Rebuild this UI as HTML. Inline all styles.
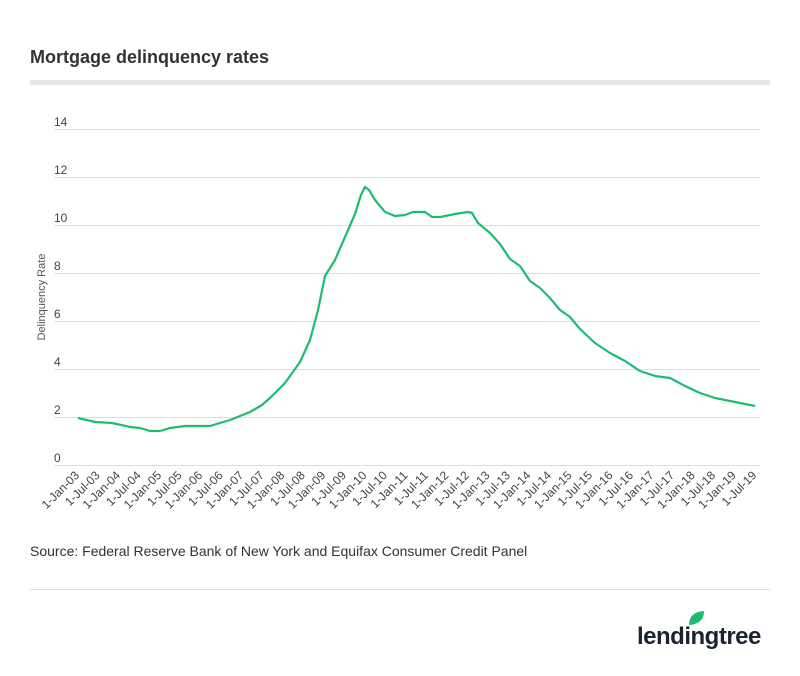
<!DOCTYPE html>
<html><head><meta charset="utf-8"><style>
body{margin:0;background:#fff;width:800px;height:671px;overflow:hidden;font-family:"Liberation Sans",sans-serif}
</style></head><body>
<svg width="800" height="671" xmlns="http://www.w3.org/2000/svg" font-family="Liberation Sans, sans-serif">
<text x="30" y="63" font-size="18" font-weight="bold" fill="#333">Mortgage delinquency rates</text>
<rect x="30" y="80" width="740" height="5" fill="#e6e6e6"/>
<g stroke="#ddd" stroke-width="1">
<line x1="54" x2="760" y1="129.5" y2="129.5"/>
<line x1="54" x2="760" y1="177.5" y2="177.5"/>
<line x1="54" x2="760" y1="225.5" y2="225.5"/>
<line x1="54" x2="760" y1="273.5" y2="273.5"/>
<line x1="54" x2="760" y1="321.5" y2="321.5"/>
<line x1="54" x2="760" y1="369.5" y2="369.5"/>
<line x1="54" x2="760" y1="417.5" y2="417.5"/>
<line x1="54" x2="760" y1="465.5" y2="465.5"/>
</g>
<g font-size="12" fill="#444">
<text x="54" y="126">14</text><text x="54" y="174">12</text><text x="54" y="222">10</text>
<text x="54" y="270">8</text><text x="54" y="318">6</text><text x="54" y="366">4</text>
<text x="54" y="414">2</text><text x="54" y="462">0</text>
</g>
<text transform="translate(45,297) rotate(-90)" font-size="11" fill="#555" text-anchor="middle">Delinquency Rate</text>
<polyline fill="none" stroke="#1ebc73" stroke-width="2.2" stroke-linejoin="round" points="78,418 95,422 112,423 130,427 140,428 150,431 160,431 170,428 185,426 210,426 230,420 250,412 262,405 270,398 285,383 300,362 310,340 318,310 325,276 335,260 345,237 355,214 361,195 365,187 369,190 375,200 385,212 395,216 405,215 413,212 425,212 432,217 440,217 455,214 468,212 472,213 478,223 490,233 500,244 510,259 520,266 530,281 540,288 550,298 560,310 570,317 580,329 595,343 610,353 625,361 640,371 655,376 670,378 685,386 700,393 715,398 735,402 755,406"/>
<g font-size="12" fill="#444" text-anchor="end" id="xl"></g>
<text x="30" y="556" font-size="14" fill="#333">Source: Federal Reserve Bank of New York and Equifax Consumer Credit Panel</text>
<line x1="30" x2="770" y1="589.5" y2="589.5" stroke="#ddd"/>
<path d="M689,625 Q689,612 704,611 Q704,624 689,625 Z" fill="#1ebc73"/>
<text x="637" y="644" font-size="24" font-weight="bold" fill="#1b2430" letter-spacing="-0.5">lendingtree</text>
</svg>
<script>
var g=document.getElementById('xl');var s='';
var i=0;for(var y=3;y<=19;y++){for(var h=0;h<2;h++){var x=80+i*20.52;var lab='1-'+(h?'Jul':'Jan')+'-'+(y<10?'0':'')+y;
s+='<text transform="translate('+x.toFixed(1)+',476) rotate(-45)">'+lab+'</text>';i++;}}
g.innerHTML=s;
</script>
</body></html>
